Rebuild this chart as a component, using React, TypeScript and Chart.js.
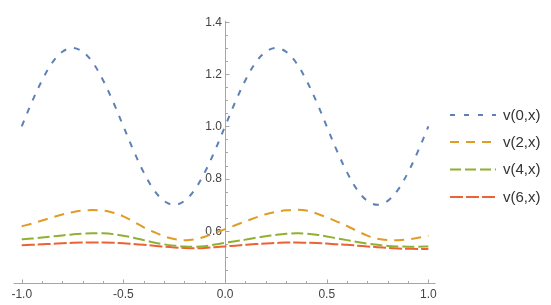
import React, { useEffect, useRef } from "react";
import { Chart, registerables } from "chart.js";

Chart.register(...registerables);

const xValues = [
  -1.0, -0.95, -0.9, -0.85, -0.8, -0.75, -0.7, -0.65, -0.6, -0.55, -0.5,
  -0.45, -0.4, -0.35, -0.3, -0.25, -0.2, -0.15, -0.1, -0.05, 0.0,
  0.05, 0.1, 0.15, 0.2, 0.25, 0.3, 0.35, 0.4, 0.45, 0.5,
  0.55, 0.6, 0.65, 0.7, 0.75, 0.8, 0.85, 0.9, 0.95, 1.0,
];

const v0 = [
  1.0, 1.093, 1.176, 1.243, 1.285, 1.3, 1.285, 1.243, 1.176, 1.093, 1.0,
  0.907, 0.824, 0.757, 0.715, 0.7, 0.715, 0.757, 0.824, 0.907, 1.0,
  1.093, 1.176, 1.243, 1.285, 1.3, 1.285, 1.243, 1.176, 1.093, 1.0,
  0.907, 0.824, 0.757, 0.715, 0.7, 0.715, 0.757, 0.824, 0.907, 1.0,
];

const v2 = [
  0.618, 0.628, 0.64, 0.652, 0.663, 0.672, 0.678, 0.68, 0.678, 0.67, 0.656,
  0.636, 0.614, 0.596, 0.58, 0.569, 0.565, 0.568, 0.578, 0.592, 0.607,
  0.622, 0.637, 0.651, 0.664, 0.673, 0.679, 0.681, 0.678, 0.667, 0.652,
  0.636, 0.619, 0.6, 0.582, 0.57, 0.565, 0.565, 0.568, 0.574, 0.582,
];

const v4 = [
  0.568, 0.571, 0.575, 0.579, 0.583, 0.587, 0.59, 0.591, 0.591, 0.588, 0.582,
  0.574, 0.565, 0.556, 0.549, 0.544, 0.541, 0.54, 0.542, 0.548, 0.555,
  0.561, 0.567, 0.574, 0.58, 0.585, 0.589, 0.591, 0.59, 0.586, 0.579,
  0.572, 0.565, 0.558, 0.552, 0.547, 0.543, 0.541, 0.54, 0.54, 0.541,
];

const v6 = [
  0.545, 0.547, 0.549, 0.551, 0.553, 0.555, 0.556, 0.556, 0.556, 0.555, 0.553,
  0.55, 0.547, 0.544, 0.54, 0.537, 0.535, 0.534, 0.535, 0.538, 0.541,
  0.544, 0.547, 0.55, 0.552, 0.554, 0.556, 0.556, 0.555, 0.554, 0.552,
  0.549, 0.547, 0.544, 0.541, 0.538, 0.535, 0.533, 0.532, 0.531, 0.531,
];

const seriesLabels = ["v(0,x)", "v(2,x)", "v(4,x)", "v(6,x)"];
const seriesColors = ["#5E81B5", "#E19C24", "#8FB032", "#EB6235"];
const seriesDashes = [[6, 8], [10, 7], [12, 4], [13, 3]];
const legendDashes = [[5, 9], [9, 7], [11, 4], [13, 3]];

const xTicks = [-1.0, -0.5, 0.0, 0.5, 1.0];
const xMinorTicks = [-0.9, -0.8, -0.7, -0.6, -0.4, -0.3, -0.2, -0.1, 0.1, 0.2, 0.3, 0.4, 0.6, 0.7, 0.8, 0.9];
const yTicks = [0.6, 0.8, 1.0, 1.2, 1.4];
const yMinorTicks = [0.45, 0.5, 0.55, 0.65, 0.7, 0.75, 0.85, 0.9, 0.95, 1.05, 1.1, 1.15, 1.25, 1.3, 1.35];

const AXIS_COLOR = "#a6a6a6";
const LABEL_COLOR = "#444444";
const FONT = "'Liberation Sans', Arial, sans-serif";

const axesPlugin = {
  id: "mmaAxes",
  beforeDatasetsDraw(chart: any) {
    const ctx = chart.ctx;
    const xs = chart.scales.x;
    const ys = chart.scales.y;
    const area = chart.chartArea;
    const x0 = Math.round(xs.getPixelForValue(0)) + 0.5;
    const yb = Math.round(area.bottom) + 0.5;
    ctx.save();
    ctx.strokeStyle = AXIS_COLOR;
    ctx.lineWidth = 1;
    ctx.setLineDash([]);
    ctx.beginPath();
    ctx.moveTo(area.left, yb);
    ctx.lineTo(area.right, yb);
    ctx.moveTo(x0, area.bottom);
    ctx.lineTo(x0, area.top - 1);
    for (const v of xTicks) {
      const p = Math.round(xs.getPixelForValue(v)) + 0.5;
      ctx.moveTo(p, yb);
      ctx.lineTo(p, yb - 4);
    }
    for (const v of xMinorTicks) {
      const p = Math.round(xs.getPixelForValue(v)) + 0.5;
      ctx.moveTo(p, yb);
      ctx.lineTo(p, yb - 2.5);
    }
    for (const v of yTicks) {
      const p = Math.round(ys.getPixelForValue(v)) + 0.5;
      ctx.moveTo(x0, p);
      ctx.lineTo(x0 + 4, p);
    }
    for (const v of yMinorTicks) {
      const p = Math.round(ys.getPixelForValue(v)) + 0.5;
      ctx.moveTo(x0, p);
      ctx.lineTo(x0 + 2.5, p);
    }
    ctx.stroke();
    ctx.fillStyle = LABEL_COLOR;
    ctx.font = `12px ${FONT}`;
    ctx.textAlign = "right";
    ctx.textBaseline = "middle";
    for (const v of yTicks) {
      const p = ys.getPixelForValue(v);
      ctx.fillText(v.toFixed(1), x0 - 3.5, p + 0.5);
    }
    ctx.restore();
  },
  afterDraw(chart: any) {
    const ctx = chart.ctx;
    ctx.save();
    const rows = [115, 142, 169.5, 197];
    seriesLabels.forEach((lab, i) => {
      const y = rows[i];
      ctx.strokeStyle = seriesColors[i];
      ctx.lineWidth = 2;
      ctx.setLineDash(legendDashes[i]);
      ctx.beginPath();
      ctx.moveTo(450, y);
      ctx.lineTo(496, y);
      ctx.stroke();
      ctx.setLineDash([]);
      ctx.fillStyle = "#333333";
      ctx.font = `15px ${FONT}`;
      ctx.textBaseline = "middle";
      ctx.textAlign = "left";
      ctx.fillText(lab, 503, y + 0.5);
    });
    ctx.restore();
  },
};

export default function App() {
  const ref = useRef<HTMLCanvasElement | null>(null);

  useEffect(() => {
    if (!ref.current) return;
    const datasets = [v0, v2, v4, v6].map((vals, i) => ({
      label: seriesLabels[i],
      data: xValues.map((x, j) => ({ x, y: vals[j] })),
      borderColor: seriesColors[i],
      backgroundColor: seriesColors[i],
      borderWidth: 2,
      borderDash: seriesDashes[i],
      pointRadius: 0,
      tension: 0.35,
      fill: false,
    }));
    const chart = new Chart(ref.current, {
      type: "line",
      data: { datasets },
      options: {
        animation: false,
        responsive: false,
        maintainAspectRatio: false,
        layout: { padding: { left: 13.6, right: 115.5, top: 21.7, bottom: 0 } },
        plugins: { legend: { display: false }, tooltip: { enabled: false } },
        scales: {
          x: {
            type: "linear",
            position: "bottom",
            min: -1.04,
            max: 1.035,
            afterBuildTicks: (s: any) => {
              s.ticks = xTicks.map((v) => ({ value: v }));
            },
            afterFit: (s: any) => {
              s.height = 21.7;
            },
            grid: { display: false, drawTicks: false },
            border: { display: false },
            ticks: {
              padding: 4,
              color: LABEL_COLOR,
              font: { family: FONT, size: 12 },
              maxRotation: 0,
              autoSkip: false,
              callback: (v: any) => Number(v).toFixed(1),
            },
          },
          y: {
            type: "linear",
            position: { x: 0 },
            min: 0.4,
            max: 1.4,
            afterBuildTicks: (s: any) => {
              s.ticks = yTicks.map((v) => ({ value: v }));
            },
            grid: { display: false, drawTicks: false },
            border: { display: false },
            ticks: { display: false },
          },
        },
      },
      plugins: [axesPlugin],
    } as any);
    return () => chart.destroy();
  }, []);

  return (
    <div style={{ position: "fixed", left: 0, top: 0, width: 551, height: 305, background: "#fff" }}>
      <canvas ref={ref} width={551} height={305} style={{ width: 551, height: 305, display: "block" }} />
    </div>
  );
}
